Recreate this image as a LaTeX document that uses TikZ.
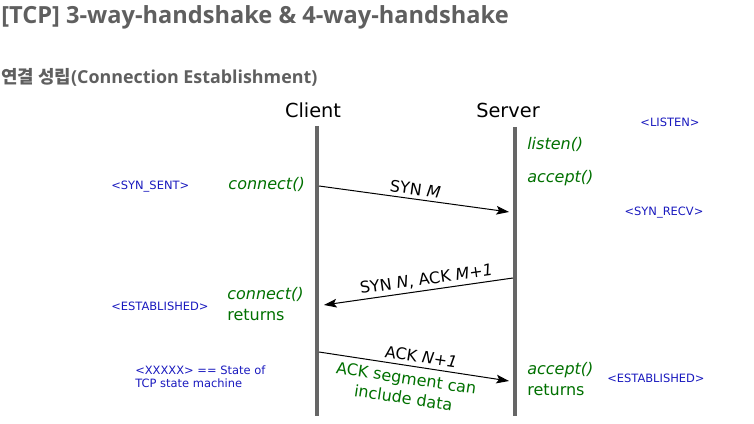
\documentclass[tikz,border=0pt]{standalone}
\usepackage{fontspec}
\setmainfont{DejaVu Sans}
\newfontfamily\headfont{Open Sans}
\newfontfamily\krfont{Noto Sans CJK KR}
\usetikzlibrary{arrows.meta}

\definecolor{lifegray}{RGB}{102,102,102}
\definecolor{headgray}{RGB}{95,95,95}
\definecolor{callgreen}{RGB}{0,112,0}
\definecolor{stateblue}{RGB}{25,25,190}

\tikzset{
    headline/.style={text=headgray, inner sep=0pt, anchor=base west},
    party/.style={font=\fontsize{14.5}{17}\selectfont, inner sep=0pt, anchor=base},
    lifeline/.style={draw=lifegray, line width=3.2pt},
    msg/.style={-{Stealth[length=9.5pt,width=6.5pt,inset=2pt]}, line width=0.75pt},
    msglabel/.style={font=\fontsize{12}{15}\selectfont, sloped, inner sep=2.5pt},
    call/.style={text=callgreen, font=\fontsize{12}{15.75}\selectfont, inner sep=0pt},
    state/.style={text=stateblue, font=\fontsize{8.6}{9.75}\selectfont, inner sep=0pt}
}

\begin{document}
\begin{tikzpicture}[x=0.75pt, y=-0.75pt]
                \useasboundingbox (0,0) rectangle (754,424);

                \node[headline, font=\headfont\bfseries\fontsize{17.7}{20}\selectfont] (title) at (1,24)
                    {[TCP] 3-way-handshake \& 4-way-handshake};
                \node[headline, font=\headfont\bfseries\fontsize{13.4}{16}\selectfont] (subtitle) at (1,84)
                    {{\krfont\bfseries 연결 성립}(Connection Establishment)};

                \node[party] (client) at (313,118) {Client};
                \node[party] (server) at (508,118) {Server};

                % lifelines
                \coordinate (ctop) at (317,126);
                \coordinate (cbot) at (317,416);
                \coordinate (stop) at (515,127);
                \coordinate (sbot) at (515,416);
                \draw[lifeline] (ctop) -- (cbot);
                \draw[lifeline] (stop) -- (sbot);

                % segments
                \coordinate (c1) at (319,186);
                \coordinate (s1) at (509,212);
                \coordinate (s2) at (513,278);
                \coordinate (c2) at (324,305);
                \coordinate (c3) at (319,352);
                \coordinate (s3) at (509,381);
                \draw[msg] (c1) -- node[msglabel, above] {SYN \textit{M}} (s1);
                \draw[msg] (s2) -- node[msglabel, above, pos=0.45] {SYN \textit{N}, ACK \textit{M+1}} (c2);
                \draw[msg] (c3) -- node[msglabel, above, pos=0.53, inner sep=3pt] {ACK \textit{N+1}}
                    node[msglabel, below, text=callgreen, align=center, pos=0.47, inner sep=4.5pt] {ACK segment can\\include data} (s3);

                % socket calls
                \node[call, anchor=base east] (connect) at (305,190) {\textit{connect()}};
                \node[call, anchor=base west] (listen) at (527,150) {\textit{listen()}};
                \node[call, anchor=base west] (accept) at (527,183) {\textit{accept()}};
                \node[call, anchor=north west, align=left] (connret) at (227,287) {\textit{connect()}\\returns};
                \node[call, anchor=north west, align=left] (accret) at (527,362) {\textit{accept()}\\returns};

                % states
                \node[state] (listenst) at (670,122) {<LISTEN>};
                \node[state, anchor=west] (synsent) at (111,187) {<SYN\_SENT>};
                \node[state] (synrecv) at (664,213) {<SYN\_RECV>};
                \node[state, anchor=west] (estclient) at (111,306) {<ESTABLISHED>};
                \node[state, anchor=west] (estserver) at (607,378) {<ESTABLISHED>};
                \node[state, anchor=north west, align=left] (legend) at (135,366) {<XXXXX> == State of\\TCP state machine};
\end{tikzpicture}
\end{document}
